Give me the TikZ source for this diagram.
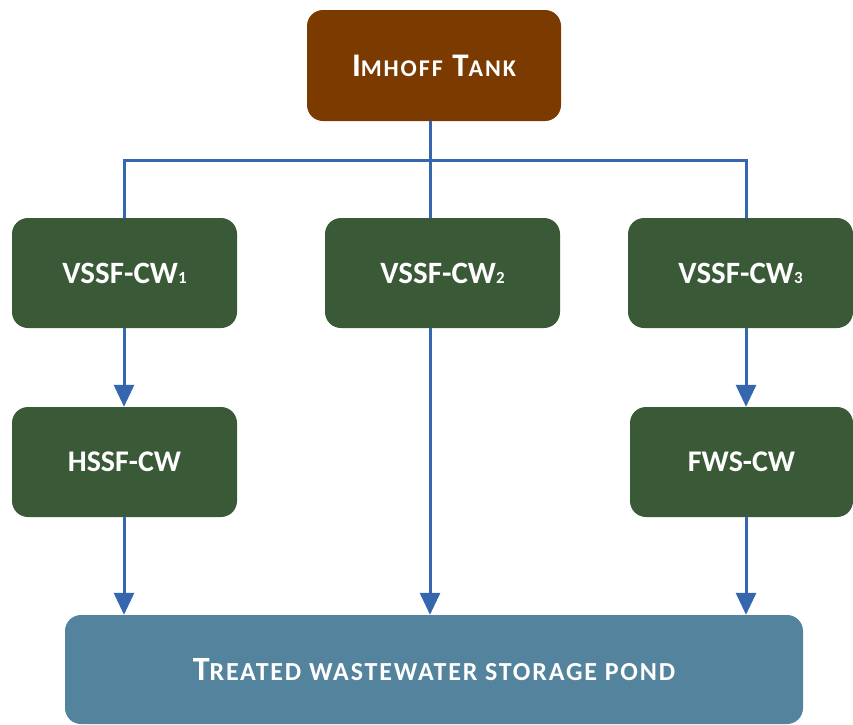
\documentclass[tikz,border=0pt]{standalone}
\usepackage{fontspec}
\setmainfont{Carlito}
\usetikzlibrary{arrows.meta}
\definecolor{tankbrown}{HTML}{7B3B00}
\definecolor{cwgreen}{HTML}{3A5937}
\definecolor{pondblue}{HTML}{53839D}
\definecolor{linkblue}{HTML}{3566AE}
\newcommand\scsize[2]{{\fontsize{#1}{#1}\selectfont #2}}
\newcommand\cwsub[1]{{\fontsize{17}{17}\selectfont #1}}
\tikzset{
  box/.style={rounded corners=16pt, text=white, font=\bfseries\fontsize{31}{31}\selectfont, inner sep=0pt, align=center},
  cwbox/.style={box, fill=cwgreen, minimum height=110pt},
  link/.style={draw=linkblue, line width=3pt},
  flow/.style={link, -{Triangle[width=20pt,length=22pt]}},
}
\begin{document}
\begin{tikzpicture}[x=1pt,y=-1pt]
\useasboundingbox (0,0) rectangle (853,724);
\node[box, fill=tankbrown, minimum width=254pt, minimum height=111pt] (imhoff) at (434,65.5)
  {\addfontfeature{LetterSpace=8}\scsize{33}{I}\scsize{24}{MHOFF} \scsize{33}{T}\scsize{24}{ANK}};
\node[cwbox, minimum width=225pt] (v1) at (124.5,273) {VSSF-CW\cwsub{1}};
\node[cwbox, minimum width=235pt] (v2) at (442.5,273) {VSSF-CW\cwsub{2}};
\node[cwbox, minimum width=225pt] (v3) at (740.5,273) {VSSF-CW\cwsub{3}};
\node[cwbox, minimum width=225pt] (h) at (124.5,462) {\fontsize{30}{30}\selectfont HSSF-CW};
\node[cwbox, minimum width=223pt] (f) at (741.5,462) {\fontsize{30}{30}\selectfont FWS-CW};
\node[box, fill=pondblue, minimum width=738pt, minimum height=109pt] (pond) at (434,669.5)
  {\addfontfeature{LetterSpace=7}\scsize{34}{T}\scsize{26}{REATED WASTEWATER STORAGE POND}};
\coordinate (j) at (430,160);
\coordinate (l) at (124,160);
\coordinate (r) at (746,160);
\draw[link] (j |- imhoff.south) -- (j);
\draw[link] (l |- v1.north) -- (l) -- (r) -- (r |- v3.north);
\draw[link] (j) -- (j |- v2.north);
\draw[flow] (l |- v1.south) -- (l |- h.north);
\draw[flow] (r |- v3.south) -- (r |- f.north);
\draw[flow] (l |- h.south) -- (l |- pond.north);
\draw[flow] (j |- v2.south) -- (j |- pond.north);
\draw[flow] (r |- f.south) -- (r |- pond.north);
\end{tikzpicture}
\end{document}
